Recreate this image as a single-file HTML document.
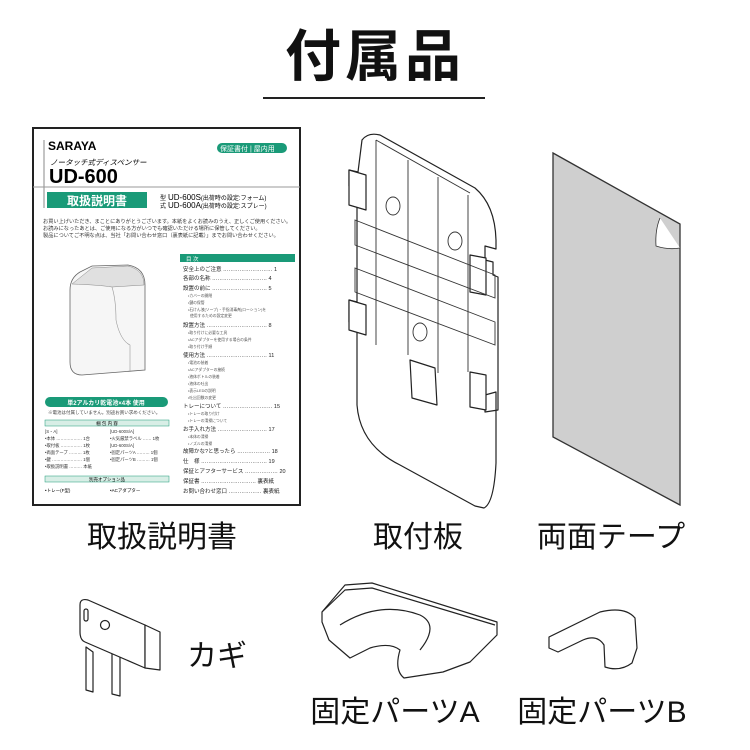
<!DOCTYPE html>
<html><head><meta charset="utf-8"><style>
html,body{margin:0;padding:0;background:#fff}
body{width:750px;height:750px;position:relative;overflow:hidden;font-family:"Liberation Sans","Noto Sans CJK JP",sans-serif;color:#111}
.a{position:absolute;white-space:nowrap}
</style></head><body>
<div class="a" style="left:265px;top:22px;width:220px;text-align:center;font-size:56px;font-weight:bold;letter-spacing:4px;line-height:70px">付属品</div>
<div class="a" style="left:263px;top:97px;width:222px;height:2px;background:#222"></div>

<svg class="a" style="left:0;top:0" width="750" height="750" viewBox="0 0 750 750">
<g font-family="Liberation Sans, Noto Sans CJK JP, sans-serif">
<!-- manual -->
<rect x="33" y="128" width="267" height="377" fill="#fff" stroke="#222" stroke-width="2"/>
<line x1="44" y1="140" x2="44" y2="208" stroke="#888" stroke-width="1"/>
<text x="48" y="150" font-size="12" font-weight="bold">SARAYA</text>
<rect x="217" y="143" width="70" height="10" rx="5" fill="#1a9a78"/>
<text x="220" y="151" font-size="7" fill="#fff">保証書付 | 屋内用</text>
<text x="50" y="165" font-size="7.5" font-style="italic">ノータッチ式ディスペンサー</text>
<text x="49" y="183" font-size="20" font-weight="bold">UD-600</text>
<line x1="33" y1="187" x2="300" y2="187" stroke="#999"/>
<rect x="47" y="192" width="100" height="16" fill="#1a9a78"/>
<text x="97" y="205" font-size="12" font-weight="bold" fill="#fff" text-anchor="middle">取扱説明書</text>
<text x="160" y="200" font-size="6">型</text><text x="160" y="208" font-size="6">式</text>
<text x="168" y="200" font-size="8">UD-600S<tspan font-size="6">(出荷時の設定:フォーム)</tspan></text>
<text x="168" y="208" font-size="8">UD-600A<tspan font-size="6">(出荷時の設定:スプレー)</tspan></text>
<g font-size="5.2" fill="#333">
<text x="43" y="223">お買い上げいただき、まことにありがとうございます。本紙をよくお読みのうえ、正しくご使用ください。</text>
<text x="43" y="230">お読みになったあとは、ご使用になる方がいつでも確認いただける場所に保管してください。</text>
<text x="43" y="237">製品についてご不明な点は、当社「お問い合わせ窓口（裏表紙に記載）」までお問い合わせください。</text>
</g>
<!-- dispenser -->
<path d="M70,290 Q70,278 80,272 L92,266 L128,265 Q145,268 145,285 L145,370 L82,375 Q70,375 70,362 Z" fill="#f6f6f6" stroke="#666" stroke-width="0.8"/>
<path d="M72,284 L92,268 L128,266 Q144,270 144,285 L112,287 Q100,285 72,284 Z" fill="#e0e0e0" stroke="#888" stroke-width="0.5"/>
<path d="M112,287 Q116,300 116,320 Q120,340 130,345 L130,372" fill="none" stroke="#999" stroke-width="0.6"/>
<!-- contents -->
<rect x="180" y="254" width="115" height="8" fill="#1a9a78"/>
<text x="186" y="261" font-size="5.5" fill="#fff">目 次</text>
<g font-size="5.5" fill="#222">
<text x="183" y="271">安全上のご注意 ……………………… 1</text>
<text x="183" y="280">各部の名称 ………………………… 4</text>
<text x="183" y="290">設置の前に ………………………… 5</text>
<text x="183" y="327">設置方法 …………………………… 8</text>
<text x="183" y="357">使用方法 …………………………… 11</text>
<text x="183" y="408">トレーについて ……………………… 15</text>
<text x="183" y="431">お手入れ方法 ……………………… 17</text>
<text x="183" y="453">故障かな?と思ったら ……………… 18</text>
<text x="183" y="463">仕　様 ……………………………… 19</text>
<text x="183" y="473">保証とアフターサービス ……………… 20</text>
<text x="183" y="483">保証書 ………………………… 裏表紙</text>
<text x="183" y="493">お問い合わせ窓口 ……………… 裏表紙</text>
</g>
<g font-size="3.8" fill="#555">
<text x="188" y="297">•カバーの開閉</text><text x="188" y="304">•鍵の保管</text><text x="188" y="311">•石けん液(ソープ)・手指消毒剤(ローション)を</text><text x="190" y="317">使用するための設定変更</text>
<text x="188" y="334">•取り付けに必要な工具</text><text x="188" y="341">•ACアダプターを使用する場合の条件</text><text x="188" y="348">•取り付け手順</text>
<text x="188" y="364">•電池の装着</text><text x="188" y="371">•ACアダプターの接続</text><text x="188" y="378">•液体ボトルの装着</text><text x="188" y="385">•液体の吐出</text><text x="188" y="392">•表示LEDの説明</text><text x="188" y="399">•吐出回数の変更</text>
<text x="188" y="415">•トレーの取り付け</text><text x="188" y="422">•トレーの清掃について</text>
<text x="188" y="438">•本体の清掃</text><text x="188" y="445">•ノズルの清掃</text>
</g>
<rect x="45" y="397" width="123" height="10" rx="5" fill="#1a9a78"/>
<text x="106" y="405" font-size="6" fill="#fff" text-anchor="middle" font-weight="bold">単2アルカリ乾電池×4本 使用</text>
<text x="48" y="414" font-size="4.5" fill="#444">※電池は付属していません。別途お買い求めください。</text>
<rect x="45" y="420" width="124" height="6" fill="#d8eee6" stroke="#1a9a78" stroke-width="0.5"/>
<text x="107" y="425" font-size="4.5" text-anchor="middle">梱 包 内 容</text>
<g font-size="4.3" fill="#333">
<text x="45" y="433">[S・A]</text><text x="110" y="433">[UD-600S/A]</text>
<text x="45" y="440">•本体 ……………… 1台</text><text x="110" y="440">•火気厳禁ラベル …… 1枚</text>
<text x="45" y="447">•取付板 …………… 1枚</text><text x="110" y="447">[UD-600S/A]</text>
<text x="45" y="454">•両面テープ ……… 1枚</text><text x="110" y="454">•固定パーツA ……… 1個</text>
<text x="45" y="461">•鍵 ………………… 1個</text><text x="110" y="461">•固定パーツB ……… 1個</text>
<text x="45" y="468">•取扱説明書 ……… 本紙</text>
</g>
<rect x="45" y="476" width="124" height="6" fill="#d8eee6" stroke="#1a9a78" stroke-width="0.5"/>
<text x="107" y="481" font-size="4.5" text-anchor="middle">別売オプション品</text>
<text x="45" y="492" font-size="4.5">•トレー(F型)</text><text x="110" y="492" font-size="4.5">•ACアダプター</text>

<!-- wall plate -->
<g fill="#fff" stroke="#222" stroke-width="1.2" stroke-linejoin="round">
<path d="M362,140 Q368,132 380,135 L475,188 Q495,205 496,240 L496,249 L485,246 L485,260 L493,262 L493,275 L498,277 L498,410 L485,412 L485,395 L496,392 L496,463 Q494,503 484,508 L475,506 L400,465 Q360,445 357,405 L357,325 L349,322 L349,300 L357,302 L357,188 L349,186 L349,170 L358,172 Z"/>
<path d="M349,300 L366,305 L366,335 L349,330 Z"/><path d="M349,170 L366,175 L366,210 L349,205 Z"/>
<path d="M470,255 L486,258 L486,295 L470,292 Z"/><path d="M470,372 L486,375 L486,410 L470,407 Z"/>
<path d="M410,360 L435,368 L437,405 L412,398 Z"/>
</g>
<g fill="none" stroke="#333" stroke-width="0.9">
<path d="M376,140 L376,345 M408,160 L408,355 M438,177 L438,373 M468,195 L468,372"/>
<path d="M355,220 L495,275 L495,298 L355,245 Z"/>
<path d="M355,268 L495,322 L495,345 L355,292 Z"/>
<path d="M376,140 L470,193"/>
<ellipse cx="393" cy="206" rx="7" ry="9"/><ellipse cx="455" cy="241" rx="7" ry="9"/><ellipse cx="420" cy="332" rx="7" ry="9"/>
</g>
<!-- tape -->
<path d="M553,153 L680,224 L680,505 L553,437 Z" fill="#cfcfcf" stroke="#333" stroke-width="1.3"/>
<path d="M660,218 Q655,230 656,246 Q668,250 680,248" fill="#fff" stroke="#333" stroke-width="0.8"/>

<!-- key -->
<g fill="#fff" stroke="#222" stroke-width="1.2" stroke-linejoin="round">
<path d="M86,647 L86,690 L93,692 L93,652 Z"/><path d="M112,652 L112,694 L120,696 L120,657 Z"/>
<path d="M80,605 Q80,598 88,600 L145,625 L145,668 L85,642 Q80,640 80,632 Z"/>
<path d="M145,625 L160,632 L160,670 L145,668 Z"/>
<circle cx="105" cy="625" r="4.5" fill="none"/><rect x="84" y="609" width="4" height="12" rx="2" fill="none"/>
</g>
<!-- part A -->
<g fill="#fff" stroke="#222" stroke-width="1.2" stroke-linejoin="round">
<path d="M345,585 L372,583 L497,622 L497,635 L470,662 L443,672 L404,678 Q394,670 400,650 Q390,642 370,648 L350,658 L329,640 L322,622 L322,612 Z"/>
<path d="M322,612 L345,590 L372,588 L495,625"/>
<path d="M340,625 Q380,600 420,615 Q440,625 420,650" fill="none"/>
</g>
<!-- part B -->
<g fill="#fff" stroke="#222" stroke-width="1.2" stroke-linejoin="round">
<path d="M549,637 L600,612 Q625,606 635,618 L637,648 L632,663 Q620,672 605,667 L604,645 Q597,634 583,640 L558,652 L549,648 Z"/>
</g>

<g font-size="30" fill="#111">
<text x="162" y="547" text-anchor="middle">取扱説明書</text>
<text x="418" y="547" text-anchor="middle">取付板</text>
<text x="611" y="547" text-anchor="middle">両面テープ</text>
<text x="187" y="666">カギ</text>
<text x="395" y="722" text-anchor="middle">固定パーツA</text>
<text x="602" y="722" text-anchor="middle">固定パーツB</text>
</g>
</g>
</svg>
</body></html>
